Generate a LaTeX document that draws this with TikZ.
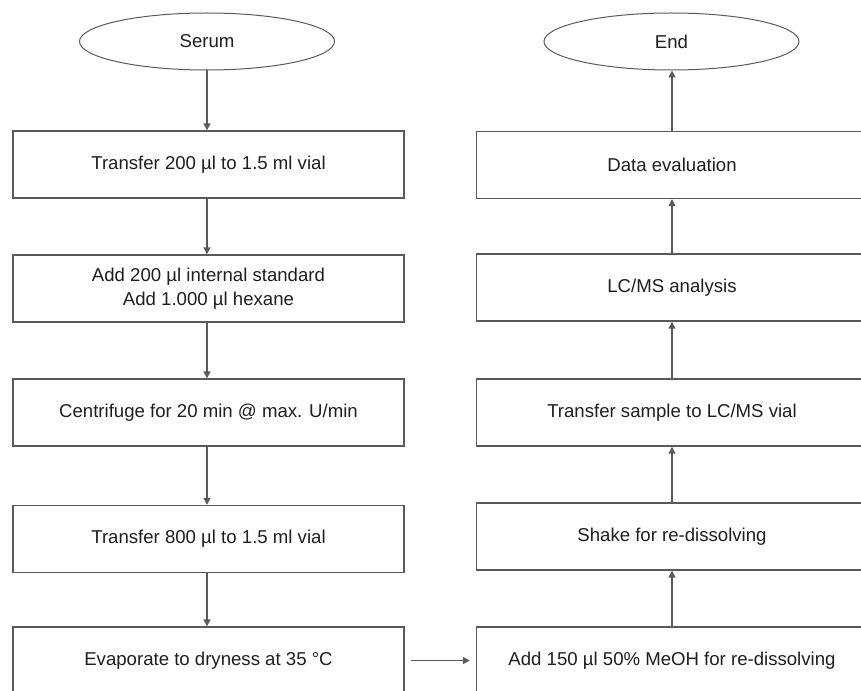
\documentclass[tikz,border=0pt]{standalone}
\usepackage{fontspec}
\setmainfont{Liberation Sans}
\usetikzlibrary{shapes.geometric,arrows.meta}
\definecolor{linegray}{HTML}{5A5A5A}
\definecolor{textgray}{HTML}{1E1E1E}
\begin{document}
\begin{tikzpicture}[x=1pt,y=-1pt,
  stepbox/.style={draw=linegray,line width=1.4pt,rectangle,minimum width=391pt,minimum height=67pt,
    inner sep=0pt,align=center,text=textgray,font=\fontsize{18.6}{24}\selectfont},
  terminal/.style={draw=linegray,line width=1pt,ellipse,minimum width=255pt,minimum height=57pt,
    inner sep=0pt,text=textgray,font=\fontsize{18.6}{24}\selectfont},
  flow/.style={draw=linegray,line width=1.5pt,-{Triangle[length=7pt,width=7pt]}}]
  \useasboundingbox (0,0) rectangle (861,690);
  \clip (0,0) rectangle (861,690);

  % left column
  \node [terminal] (serum) at (207,41.5) {Serum};
  \node [stepbox] (trans200) at (208.5,164.5) {Transfer 200 µl to 1.5 ml vial};
  \node [stepbox] (addstd) at (208.5,288.5) {Add 200 µl internal standard\\Add 1.000 µl hexane};
  \node [stepbox] (centri) at (208.5,412.5) {Centrifuge for 20 min @ max. U/min};
  \node [stepbox] (trans800) at (208.5,539) {Transfer 800 µl to 1.5 ml vial};
  \node [stepbox] (evap) at (208.5,660.5) {Evaporate to dryness at 35 °C};

  % right column
  \node [terminal] (end) at (671.5,41.5) {End};
  \node [stepbox] (data) at (672,165) {Data evaluation};
  \node [stepbox] (lcms) at (672,287.5) {LC/MS analysis};
  \node [stepbox] (transms) at (672,412.5) {Transfer sample to LC/MS vial};
  \node [stepbox] (shake) at (672,536.5) {Shake for re-dissolving};
  \node [stepbox] (addmeoh) at (672,660.5) {Add 150 µl 50\% MeOH for re-dissolving};

  \draw [flow] (serum.south) -- (serum.south |- trans200.north);
  \draw [flow] (serum.south |- trans200.south) -- (serum.south |- addstd.north);
  \draw [flow] (serum.south |- addstd.south) -- (serum.south |- centri.north);
  \draw [flow] (serum.south |- centri.south) -- (serum.south |- trans800.north);
  \draw [flow] (serum.south |- trans800.south) -- (serum.south |- evap.north);

  \draw [flow,shorten <=6pt,shorten >=6pt] (evap.east) -- (addmeoh.west);

  \draw [flow] (addmeoh.north) -- (shake.south);
  \draw [flow] (shake.north) -- (transms.south);
  \draw [flow] (transms.north) -- (lcms.south);
  \draw [flow] (lcms.north) -- (data.south);
  \draw [flow] (data.north) -- (data.north |- end.south);
\end{tikzpicture}
\end{document}
